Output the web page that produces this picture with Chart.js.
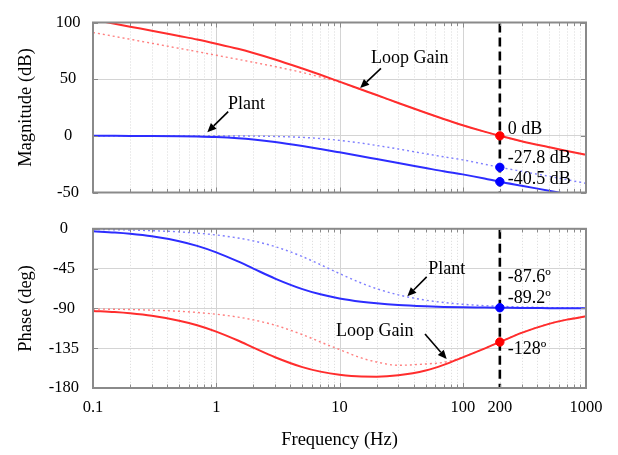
<!DOCTYPE html>
<html>
<head>
<meta charset="utf-8">
<script src="https://cdn.jsdelivr.net/npm/chart.js@4.4.0/dist/chart.umd.min.js"></script>
<style>
  html, body { margin: 0; padding: 0; background: #ffffff; }
  #wrap { position: relative; width: 618px; height: 455px; overflow: hidden; background: #fff; }
  canvas { position: absolute; left: 0; }
  #top { top: 0; }
  #bot { top: 205px; }
</style>
</head>
<body>
<div id="wrap">
  <canvas id="top" width="618" height="215"></canvas>
  <canvas id="bot" width="618" height="250"></canvas>
</div>
<script>
// ---------------- data ----------------
const freqs = [0.1, 0.15, 0.2, 0.3, 0.5, 0.7, 1, 1.5, 2, 3, 5, 7, 10, 15, 20, 30, 50, 70, 100, 150, 200, 300, 500, 700, 1000];

// Magnitude (dB)
const loopGainMag       = [102.4, 98.9, 96.3, 92.8, 88.1, 85.0, 81.3, 76.8, 73.1, 67.4, 59.4, 53.9, 47.8, 40.9, 36.0, 29.0, 20.4, 14.9, 9.4, 3.7, 0, -4.7, -10.0, -13.4, -16.8];
const loopGainMagDotted = [91.2, 87.7, 85.2, 81.7, 77.2, 74.3, 71.1, 67.5, 64.9, 61.1, 55.9, 51.9, 47.4, 40.8, 35.9, 28.9, 20.3, 14.8, 9.3, 3.6, -0.1, -4.8, -10.1, -13.5, -16.9];
const plantMag          = [0, -0.03, -0.05, -0.11, -0.29, -0.55, -1.06, -2.1, -3.24, -5.43, -8.99, -11.63, -14.58, -18.0, -20.5, -24.0, -28.4, -31.3, -34.0, -37.6, -40.5, -44.0, -48.4, -51.3, -54.4];
const plantMagDotted    = [0, 0, 0, -0.01, -0.02, -0.03, -0.06, -0.14, -0.25, -0.55, -1.37, -2.38, -4.0, -6.4, -8.5, -11.6, -15.8, -18.5, -21.2, -25.0, -27.8, -31.3, -35.7, -38.7, -41.9];

// Phase (deg)
const loopGainPhase       = [-92.8, -94.2, -95.6, -98.4, -103.9, -109.0, -116.2, -126.3, -134.3, -145.2, -156.4, -161.5, -165.1, -167.1, -167.2, -165.6, -160.2, -153.8, -145.4, -135.4, -128, -117.7, -107.5, -102.7, -99.0];
const loopGainPhaseDotted = [-90.7, -91.0, -91.3, -92.0, -93.3, -94.6, -96.6, -99.8, -103.0, -109.0, -119.6, -128.0, -136.5, -146.0, -150.6, -154.3, -152.8, -151.0, -145.2, -135.2, -127.9, -117.6, -107.4, -102.6, -98.9];
const plantPhase          = [-2.9, -4.3, -5.7, -8.5, -14.0, -19.3, -26.6, -36.9, -45.0, -56.3, -68.2, -74.1, -78.7, -82.4, -84.3, -86.2, -87.7, -88.4, -88.8, -89.0, -89.2, -89.5, -89.7, -89.8, -89.9];
const plantPhaseDotted    = [-0.7, -1.05, -1.4, -2.1, -3.5, -4.9, -7.0, -10.4, -13.7, -20.1, -31.4, -40.5, -50.6, -61.3, -67.7, -74.7, -80.7, -83.3, -85.3, -86.9, -87.6, -88.4, -89.1, -89.3, -89.5];

// Marked points at the 200 Hz crossover
const markerFreq = [200];
const markLoopMag = [0];
const markPlantMag = [-27.8, -40.5];
const markPlantPhase = [-89.2];
const markLoopPhase = [-128];

// Axis ticks
const labeledTicks = [0.1, 1, 10, 100, 200, 1000];
const decades = [0.1, 1, 10, 100, 1000];
const magTicks = { min: -50, max: 100, step: 50 };
const phaseTicks = { min: -180, max: 0, step: 45 };

// ---------------- helpers ----------------
const FONT = 'Liberation Serif';
const RED = 'rgb(255,45,45)';
const BLUE = 'rgb(45,45,255)';
const RED_DOT = 'rgba(255,120,120,0.95)';
const BLUE_DOT = 'rgba(120,120,255,0.95)';
const GRID = '#d4d4d4';
const MINOR = '#d9d9d9';
const FRAME = '#8a8a8a';

const gridTicks = [];
for (const d of [0.1, 1, 10, 100]) for (let m = 1; m <= 9; m++) gridTicks.push(+(d * m).toPrecision(3));
gridTicks.push(1000);
const isMajor = v => decades.includes(v);

const pts = (xs, ys) => ys.map((y, i) => ({ x: xs[i], y }));
const markerPts = (ys) => ys.map(y => ({ x: markerFreq[0], y }));

function lineDs(data, color, dotted, order) {
  return {
    data, borderColor: color, backgroundColor: color,
    borderWidth: dotted ? 1.4 : 2, borderDash: dotted ? [2, 3] : [],
    pointRadius: 0, cubicInterpolationMode: 'monotone', clip: 0, order
  };
}
function markerDs(data, color) {
  return { data, showLine: false, pointRadius: 4.2, pointBackgroundColor: color, pointBorderColor: color, borderColor: color, order: 0 };
}

function xScale(showLabels) {
  return {
    type: 'logarithmic', min: 0.1, max: 1000,
    afterBuildTicks: s => { s.ticks = gridTicks.map(v => ({ value: v })); },
    afterFit: s => { s.height = showLabels ? 67 : 0; },
    border: { display: false },
    grid: { display: false, drawTicks: false },
    ticks: {
      display: showLabels, autoSkip: false, maxRotation: 0, minRotation: 0, padding: 10,
      color: '#000', font: { family: FONT, size: 16.5 },
      callback: v => labeledTicks.includes(v) ? String(v) : ''
    },
    title: {
      display: showLabels, text: 'Frequency (Hz)', color: '#000',
      font: { family: FONT, size: 18.5 }, padding: { top: 0, bottom: 4 }
    }
  };
}
function yScale(t, title, tickPad) {
  return {
    type: 'linear', min: t.min, max: t.max,
    afterFit: s => { s.width = 93; },
    border: { display: false },
    grid: { drawTicks: false, color: GRID, lineWidth: 1 },
    ticks: { stepSize: t.step, padding: tickPad, crossAlign: 'center', color: '#000', font: { family: FONT, size: 16.5 } },
    title: { display: true, text: title, color: '#000', font: { family: FONT, size: 18.5 }, padding: { top: 15, bottom: 0 } }
  };
}

function decor(texts, arrows) {
  return {
    id: 'decor',
    beforeDatasetsDraw(chart) {
      const { ctx, chartArea: a, scales: { x } } = chart;
      ctx.save();
      // vertical grid: solid at decades, dotted at minor ticks
      for (const t of x.ticks) {
        const p = Math.round(x.getPixelForValue(t.value)) + 0.5;
        ctx.beginPath();
        if (isMajor(t.value)) { ctx.strokeStyle = GRID; ctx.setLineDash([]); }
        else { ctx.strokeStyle = MINOR; ctx.setLineDash([1, 2]); }
        ctx.lineWidth = 1;
        ctx.moveTo(p, a.top); ctx.lineTo(p, a.bottom); ctx.stroke();
      }
      // dashed marker line
      const px = x.getPixelForValue(markerFreq[0]);
      ctx.strokeStyle = '#000'; ctx.lineWidth = 2.6; ctx.setLineDash([9, 5]);
      ctx.beginPath(); ctx.moveTo(px, a.top + 1); ctx.lineTo(px, a.bottom); ctx.stroke();
      ctx.restore();
    },
    afterDraw(chart) {
      const { ctx, chartArea: a, scales: { x, y } } = chart;
      ctx.save();
      // inner tick marks
      ctx.strokeStyle = FRAME; ctx.lineWidth = 1;
      ctx.beginPath();
      for (const t of x.ticks) {
        const p = Math.round(x.getPixelForValue(t.value)) + 0.5;
        const L = isMajor(t.value) ? 5 : 3.5;
        ctx.moveTo(p, a.bottom); ctx.lineTo(p, a.bottom - L);
        ctx.moveTo(p, a.top); ctx.lineTo(p, a.top + L);
      }
      for (const t of y.ticks) {
        const p = Math.round(y.getPixelForValue(t.value)) + 0.5;
        ctx.moveTo(a.left, p); ctx.lineTo(a.left + 5, p);
        ctx.moveTo(a.right, p); ctx.lineTo(a.right - 5, p);
      }
      ctx.stroke();
      // frame
      ctx.strokeStyle = FRAME; ctx.lineWidth = 2;
      ctx.strokeRect(a.left, a.top, a.right - a.left, a.bottom - a.top);
      // texts
      ctx.fillStyle = '#000';
      ctx.font = '18px "' + FONT + '"';
      ctx.textBaseline = 'alphabetic'; ctx.textAlign = 'left';
      for (const t of texts) ctx.fillText(t.text, x.getPixelForValue(t.x), y.getPixelForValue(t.y));
      // arrows
      ctx.strokeStyle = '#000'; ctx.lineWidth = 1.6;
      for (const ar of arrows) {
        const x1 = x.getPixelForValue(ar.from[0]), y1 = y.getPixelForValue(ar.from[1]);
        const x2 = x.getPixelForValue(ar.to[0]), y2 = y.getPixelForValue(ar.to[1]);
        const ang = Math.atan2(y2 - y1, x2 - x1);
        const hl = 9, hw = 4;
        const bx = x2 - hl * Math.cos(ang), by = y2 - hl * Math.sin(ang);
        ctx.beginPath(); ctx.moveTo(x1, y1); ctx.lineTo(bx, by); ctx.stroke();
        ctx.beginPath();
        ctx.moveTo(x2, y2);
        ctx.lineTo(bx + hw * Math.sin(ang), by - hw * Math.cos(ang));
        ctx.lineTo(bx - hw * Math.sin(ang), by + hw * Math.cos(ang));
        ctx.closePath(); ctx.fill();
      }
      ctx.restore();
    }
  };
}

const common = {
  responsive: false, devicePixelRatio: 1, animation: false,
  plugins: { legend: { display: false }, tooltip: { enabled: false } },
  events: []
};

// ---------------- magnitude chart ----------------
new Chart(document.getElementById('top'), {
  type: 'line',
  data: {
    datasets: [
      markerDs(markerPts(markLoopMag), '#ff0000'),
      markerDs(markerPts(markPlantMag), '#0000ff'),
      lineDs(pts(freqs, loopGainMag), RED, false, 1),
      lineDs(pts(freqs, plantMag), BLUE, false, 1),
      lineDs(pts(freqs, loopGainMagDotted), RED_DOT, true, 2),
      lineDs(pts(freqs, plantMagDotted), BLUE_DOT, true, 2)
    ]
  },
  options: Object.assign({}, common, {
    layout: { padding: { left: 0, right: 32, top: 14, bottom: 12 } },
    scales: { x: xScale(false), y: yScale(magTicks, 'Magnitude (dB)', 12.6) }
  }),
  plugins: [decor(
    [
      { text: 'Loop Gain', x: 18.0, y: 64.3 },
      { text: 'Plant', x: 1.245, y: 23.3 },
      { text: '0 dB', x: 232, y: 1.6 },
      { text: '-27.8 dB', x: 232, y: -23.8 },
      { text: '-40.5 dB', x: 232, y: -42.1 }
    ],
    [
      { from: [21.7, 59.5], to: [14.7, 42.1] },
      { from: [1.25, 21.4], to: [0.846, 3.2] }
    ]
  )]
});

// ---------------- phase chart ----------------
new Chart(document.getElementById('bot'), {
  type: 'line',
  data: {
    datasets: [
      markerDs(markerPts(markPlantPhase), '#0000ff'),
      markerDs(markerPts(markLoopPhase), '#ff0000'),
      lineDs(pts(freqs, plantPhase), BLUE, false, 1),
      lineDs(pts(freqs, loopGainPhase), RED, false, 1),
      lineDs(pts(freqs, plantPhaseDotted), BLUE_DOT, true, 2),
      lineDs(pts(freqs, loopGainPhaseDotted), RED_DOT, true, 2)
    ]
  },
  options: Object.assign({}, common, {
    layout: { padding: { left: 0, right: 32, top: 14, bottom: 0 } },
    scales: { x: xScale(true), y: yScale(phaseTicks, 'Phase (deg)', 13.9) }
  }),
  plugins: [decor(
    [
      { text: 'Plant', x: 52.5, y: -50.8 },
      { text: '-87.6º', x: 232, y: -59.6 },
      { text: '-89.2º', x: 232, y: -84.1 },
      { text: 'Loop Gain', x: 9.37, y: -121.4 },
      { text: '-128º', x: 232, y: -141.7 }
    ],
    [
      { from: [51.0, -54.3], to: [35.5, -76.4] },
      { from: [49.4, -119.0], to: [74.1, -147.3] }
    ]
  )]
});
</script>
</body>
</html>
